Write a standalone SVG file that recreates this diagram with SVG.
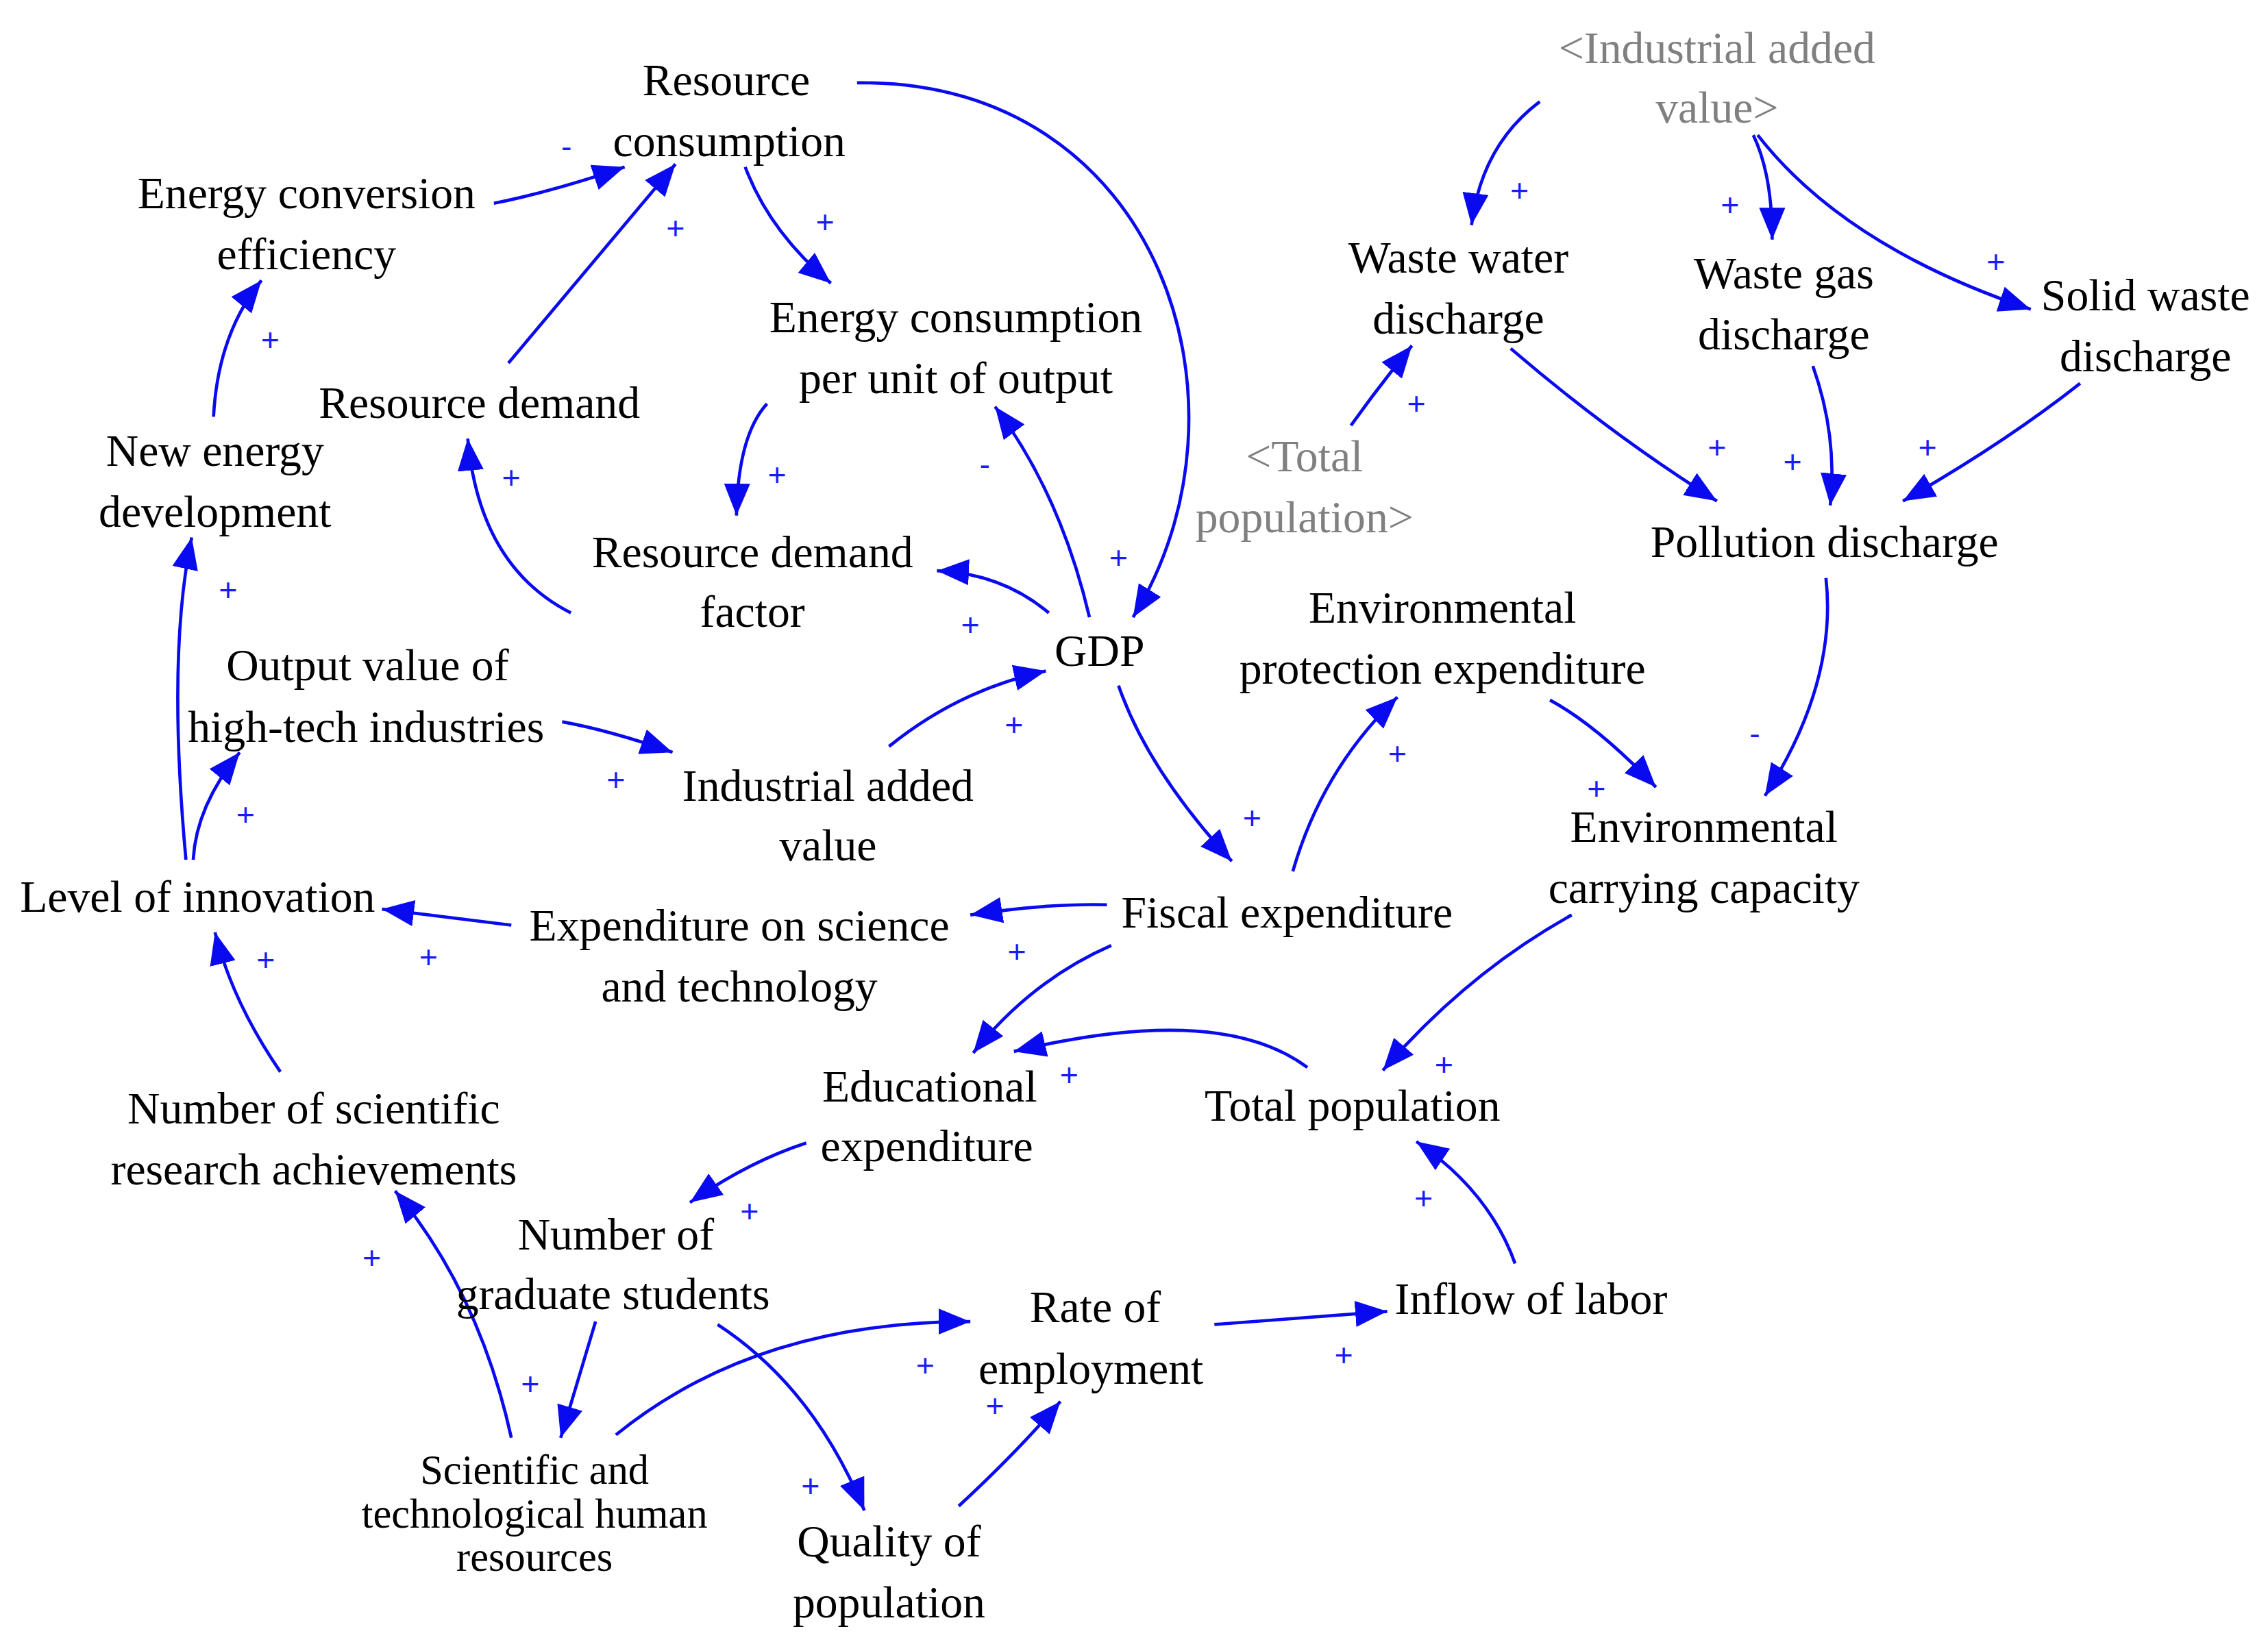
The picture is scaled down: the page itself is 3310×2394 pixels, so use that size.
<svg xmlns="http://www.w3.org/2000/svg" width="3310" height="2394" viewBox="0 0 3310 2394">
<style>
.t{font-family:"Liberation Serif",serif;font-size:31px;fill:#000;text-anchor:middle;dominant-baseline:central}
.c{font-size:28.5px}
.g{fill:#808080}
.s{font-family:"Liberation Sans",sans-serif;font-size:22px;fill:#1a1aff;text-anchor:middle;dominant-baseline:central}
.e{fill:none;stroke:#0a0af0;stroke-width:2.2;marker-end:url(#a)}
</style>
<defs><marker id="a" markerUnits="userSpaceOnUse" markerWidth="24" markerHeight="20" refX="22" refY="9" orient="auto"><path d="M0,0 L22,9 L0,18 Z" fill="#0a0af0"/></marker></defs>
<rect width="3310" height="2394" fill="#fff"/>
<g transform="scale(2.12)">
<g id="connectors">
<path class="e" d="M590,57 C800,55 870,280 780,425"/>
<path class="e" d="M340,140 Q380,132 430,115"/>
<path class="e" d="M350,250 L465,113"/>
<path class="e" d="M513,115 Q530,160 572,195"/>
<path class="e" d="M528,278 Q508,300 507,355"/>
<path class="e" d="M750,425 Q730,340 685,280"/>
<path class="e" d="M722,422 Q690,395 645,393"/>
<path class="e" d="M393,422 Q330,390 322,302"/>
<path class="e" d="M147,287 Q150,230 180,193"/>
<path class="e" d="M128,592 Q115,450 132,370"/>
<path class="e" d="M133,592 Q135,555 165,518"/>
<path class="e" d="M387,497 Q420,503 463,518"/>
<path class="e" d="M612,514 Q660,475 720,462"/>
<path class="e" d="M770,472 Q790,530 848,593"/>
<path class="e" d="M890,600 Q910,530 962,480"/>
<path class="e" d="M1067,482 Q1100,500 1140,542"/>
<path class="e" d="M1257,398 Q1265,470 1215,548"/>
<path class="e" d="M1082,630 Q1010,670 952,737"/>
<path class="e" d="M900,735 Q840,690 698,724"/>
<path class="e" d="M765,651 Q710,675 670,725"/>
<path class="e" d="M762,623 Q720,622 668,630"/>
<path class="e" d="M352,637 Q310,632 263,626"/>
<path class="e" d="M193,738 Q160,690 148,642"/>
<path class="e" d="M555,787 Q515,800 475,828"/>
<path class="e" d="M410,910 L386,990"/>
<path class="e" d="M352,990 Q330,890 272,820"/>
<path class="e" d="M494,912 Q560,955 595,1040"/>
<path class="e" d="M424,988 Q520,910 668,910"/>
<path class="e" d="M660,1037 Q700,1000 730,965"/>
<path class="e" d="M836,912 L955,903"/>
<path class="e" d="M1043,870 Q1025,820 975,786"/>
<path class="e" d="M1060,70 Q1020,100 1013,155"/>
<path class="e" d="M1207,93 Q1220,120 1220,165"/>
<path class="e" d="M1210,93 Q1270,170 1398,213"/>
<path class="e" d="M930,293 Q950,265 972,238"/>
<path class="e" d="M1040,240 Q1110,300 1182,345"/>
<path class="e" d="M1248,252 Q1265,300 1260,348"/>
<path class="e" d="M1432,264 Q1380,305 1310,345"/>
</g>
<g id="signs">
<text class="s" x="770" y="384">+</text><text class="s" x="390" y="101">-</text><text class="s" x="465" y="157">+</text>
<text class="s" x="568" y="153">+</text><text class="s" x="535" y="327">+</text><text class="s" x="678" y="320">-</text>
<text class="s" x="668" y="430">+</text><text class="s" x="352" y="329">+</text><text class="s" x="186" y="234">+</text>
<text class="s" x="157" y="406">+</text><text class="s" x="169" y="561">+</text><text class="s" x="424" y="537">+</text>
<text class="s" x="698" y="499">+</text><text class="s" x="862" y="563">+</text><text class="s" x="962" y="519">+</text>
<text class="s" x="1099" y="543">+</text><text class="s" x="1208" y="505">-</text><text class="s" x="994" y="733">+</text>
<text class="s" x="736" y="740">+</text><text class="s" x="700" y="655">+</text><text class="s" x="295" y="659">+</text>
<text class="s" x="183" y="661">+</text><text class="s" x="516" y="834">+</text><text class="s" x="365" y="953">+</text>
<text class="s" x="256" y="866">+</text><text class="s" x="558" y="1023">+</text><text class="s" x="637" y="940">+</text>
<text class="s" x="685" y="968">+</text><text class="s" x="925" y="933">+</text><text class="s" x="980" y="825">+</text>
<text class="s" x="1046" y="131">+</text><text class="s" x="1191" y="141">+</text><text class="s" x="1374" y="180">+</text>
<text class="s" x="975" y="278">+</text><text class="s" x="1182" y="308">+</text><text class="s" x="1234" y="318">+</text>
<text class="s" x="1327" y="308">+</text>
</g>
<g id="n1"><text class="t" x="500" y="55">Resource</text><text class="t" x="502" y="97">consumption</text></g>
<g id="n2"><text class="t" x="211" y="133">Energy conversion</text><text class="t" x="211" y="175">efficiency</text></g>
<g id="n3"><text class="t" x="658" y="218">Energy consumption</text><text class="t" x="658" y="260">per unit of output</text></g>
<g id="n4"><text class="t" x="330" y="277">Resource demand</text></g>
<g id="n5"><text class="t" x="148" y="310">New energy</text><text class="t" x="148" y="352">development</text></g>
<g id="n6"><text class="t" x="518" y="380">Resource demand</text><text class="t" x="518" y="421">factor</text></g>
<g id="n7"><text class="t" x="757" y="448">GDP</text></g>
<g id="n8"><text class="t" x="253" y="458">Output value of</text><text class="t" x="252" y="500">high-tech industries</text></g>
<g id="n9"><text class="t" x="570" y="541">Industrial added</text><text class="t" x="570" y="582">value</text></g>
<g id="n10"><text class="t" x="136" y="617">Level of innovation</text></g>
<g id="n11"><text class="t" x="509" y="637">Expenditure on science</text><text class="t" x="509" y="679">and technology</text></g>
<g id="n12"><text class="t" x="886" y="628">Fiscal expenditure</text></g>
<g id="n13"><text class="t" x="993" y="418">Environmental</text><text class="t" x="993" y="460">protection expenditure</text></g>
<g id="n14"><text class="t" x="1173" y="569">Environmental</text><text class="t" x="1173" y="611">carrying capacity</text></g>
<g id="n15"><text class="t" x="1256" y="373">Pollution discharge</text></g>
<g id="n16"><text class="t" x="1004" y="177">Waste water</text><text class="t" x="1004" y="219">discharge</text></g>
<g id="n17"><text class="t" x="1228" y="188">Waste gas</text><text class="t" x="1228" y="230">discharge</text></g>
<g id="n18"><text class="t" x="1477" y="203">Solid waste</text><text class="t" x="1477" y="245">discharge</text></g>
<g id="n19"><text class="t g" x="1182" y="33">&lt;Industrial added</text><text class="t g" x="1182" y="74">value&gt;</text></g>
<g id="n20"><text class="t g" x="898" y="314">&lt;Total</text><text class="t g" x="898" y="356">population&gt;</text></g>
<g id="n21"><text class="t" x="640" y="748">Educational</text><text class="t" x="638" y="789">expenditure</text></g>
<g id="n22"><text class="t" x="931" y="761">Total population</text></g>
<g id="n23"><text class="t" x="216" y="763">Number of scientific</text><text class="t" x="216" y="805">research achievements</text></g>
<g id="n24"><text class="t" x="424" y="850">Number of</text><text class="t" x="422" y="891">graduate students</text></g>
<g id="n25"><text class="t" x="754" y="900">Rate of</text><text class="t" x="751" y="942">employment</text></g>
<g id="n26"><text class="t" x="1054" y="894">Inflow of labor</text></g>
<g id="n27"><text class="t c" x="368" y="1012">Scientific and</text><text class="t c" x="368" y="1042">technological human</text><text class="t c" x="368" y="1072">resources</text></g>
<g id="n28"><text class="t" x="612" y="1061">Quality of</text><text class="t" x="612" y="1103">population</text></g>
</g>
</svg>
